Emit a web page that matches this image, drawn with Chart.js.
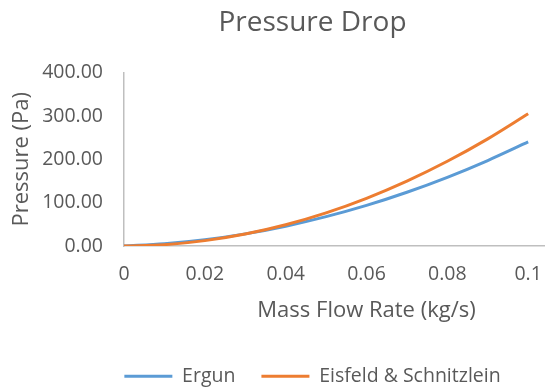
<!DOCTYPE html>
<html>
<head>
<meta charset="utf-8">
<title>Pressure Drop</title>
<script src="https://cdn.jsdelivr.net/npm/chart.js@4.4.1/dist/chart.umd.min.js"></script>
<style>
  html, body { margin: 0; padding: 0; background: #ffffff; }
  /* the plot runs on past 0.1 kg/s; the frame shows only its left part */
  #wrap { width: 545px; height: 390px; overflow: hidden; position: relative; }
  #chart { display: block; }
</style>
</head>
<body>
<div id="wrap"><canvas id="chart" width="625" height="390"></canvas></div>
<script>
// Mass flow rate samples (kg/s)
const massFlow = [0, 0.01, 0.02, 0.03, 0.04, 0.05, 0.06, 0.07, 0.08, 0.09, 0.1];
// Pressure drop (Pa) for each correlation
const ergun    = [0, 5.2, 14.5, 28.0, 45.7, 67.7, 93.7, 124.0, 158.5, 197.2, 240.0];
const eisfeld  = [0, 3.1, 12.4, 27.7, 49.1, 76.5, 110.1, 149.7, 195.4, 247.1, 305.0];
// Axis tick values
const xTicks = [0, 0.02, 0.04, 0.06, 0.08, 0.1];
const yTicks = [0, 100, 200, 300, 400];

const seriesNames = ['Ergun', 'Eisfeld & Schnitzlein'];
const seriesColors = ['#5B9BD5', '#ED7D31'];
// Eisfeld & Schnitzlein is painted over Ergun (lower order = drawn later)
const seriesOrder = [1, 0];

const TEXT = '#595959';
const FONT = '"Open Sans", "Liberation Sans", sans-serif';

const toPoints = (ys) => massFlow.map((x, i) => ({ x: x, y: ys[i] }));

new Chart(document.getElementById('chart'), {
  type: 'line',
  data: {
    datasets: [ergun, eisfeld].map((ys, i) => ({
      label: seriesNames[i],
      data: toPoints(ys),
      order: seriesOrder[i],
      borderColor: seriesColors[i],
      backgroundColor: seriesColors[i],
      borderWidth: 3,
      pointRadius: 0,
      pointHoverRadius: 0,
      cubicInterpolationMode: 'monotone',
      fill: false
    }))
  },
  options: {
    responsive: false,
    animation: false,
    events: [],
    layout: { padding: { left: 16, right: 16, top: 0, bottom: -6 } },
    plugins: {
      tooltip: { enabled: false },
      title: {
        display: true,
        text: 'Pressure Drop',
        color: TEXT,
        font: { family: FONT, size: 28, weight: 'normal' },
        padding: { top: 6, bottom: 33 }
      },
      legend: {
        display: true,
        position: 'bottom',
        labels: {
          color: TEXT,
          font: { family: FONT, size: 19.5 },
          usePointStyle: true,
          pointStyle: 'line',
          pointStyleWidth: 48,
          padding: 26,
          sort: (a, b) => a.datasetIndex - b.datasetIndex
        }
      }
    },
    scales: {
      x: {
        type: 'linear',
        min: 0,
        max: 0.12,
        afterBuildTicks: (scale) => { scale.ticks = xTicks.map(v => ({ value: v })); },
        afterFit: (scale) => { scale.height = 94.5; },
        grid: { display: false, drawTicks: false },
        border: { display: true, color: '#bfbfbf', width: 1.5 },
        ticks: {
          color: TEXT,
          font: { family: FONT, size: 19.5 },
          padding: 17,
          maxRotation: 0,
          autoSkip: false,
          callback: (v) => String(+Number(v).toFixed(2))
        },
        title: {
          display: true,
          text: 'Mass Flow Rate (kg/s)',
          color: TEXT,
          font: { family: FONT, size: 22 },
          padding: { top: 0, bottom: 17 }
        }
      },
      y: {
        type: 'linear',
        min: 0,
        max: 400,
        afterBuildTicks: (scale) => { scale.ticks = yTicks.map(v => ({ value: v })); },
        afterFit: (scale) => { scale.width = 108; },
        grid: { display: false, drawTicks: false },
        border: { display: true, color: '#bfbfbf', width: 1.5 },
        ticks: {
          color: TEXT,
          font: { family: FONT, size: 19.5 },
          padding: 21,
          callback: (v) => Number(v).toFixed(2)
        },
        title: {
          display: true,
          text: 'Pressure (Pa)',
          color: TEXT,
          font: { family: FONT, size: 22 },
          padding: { top: -7, bottom: 0 }
        }
      }
    }
  }
});
</script>
</body>
</html>
